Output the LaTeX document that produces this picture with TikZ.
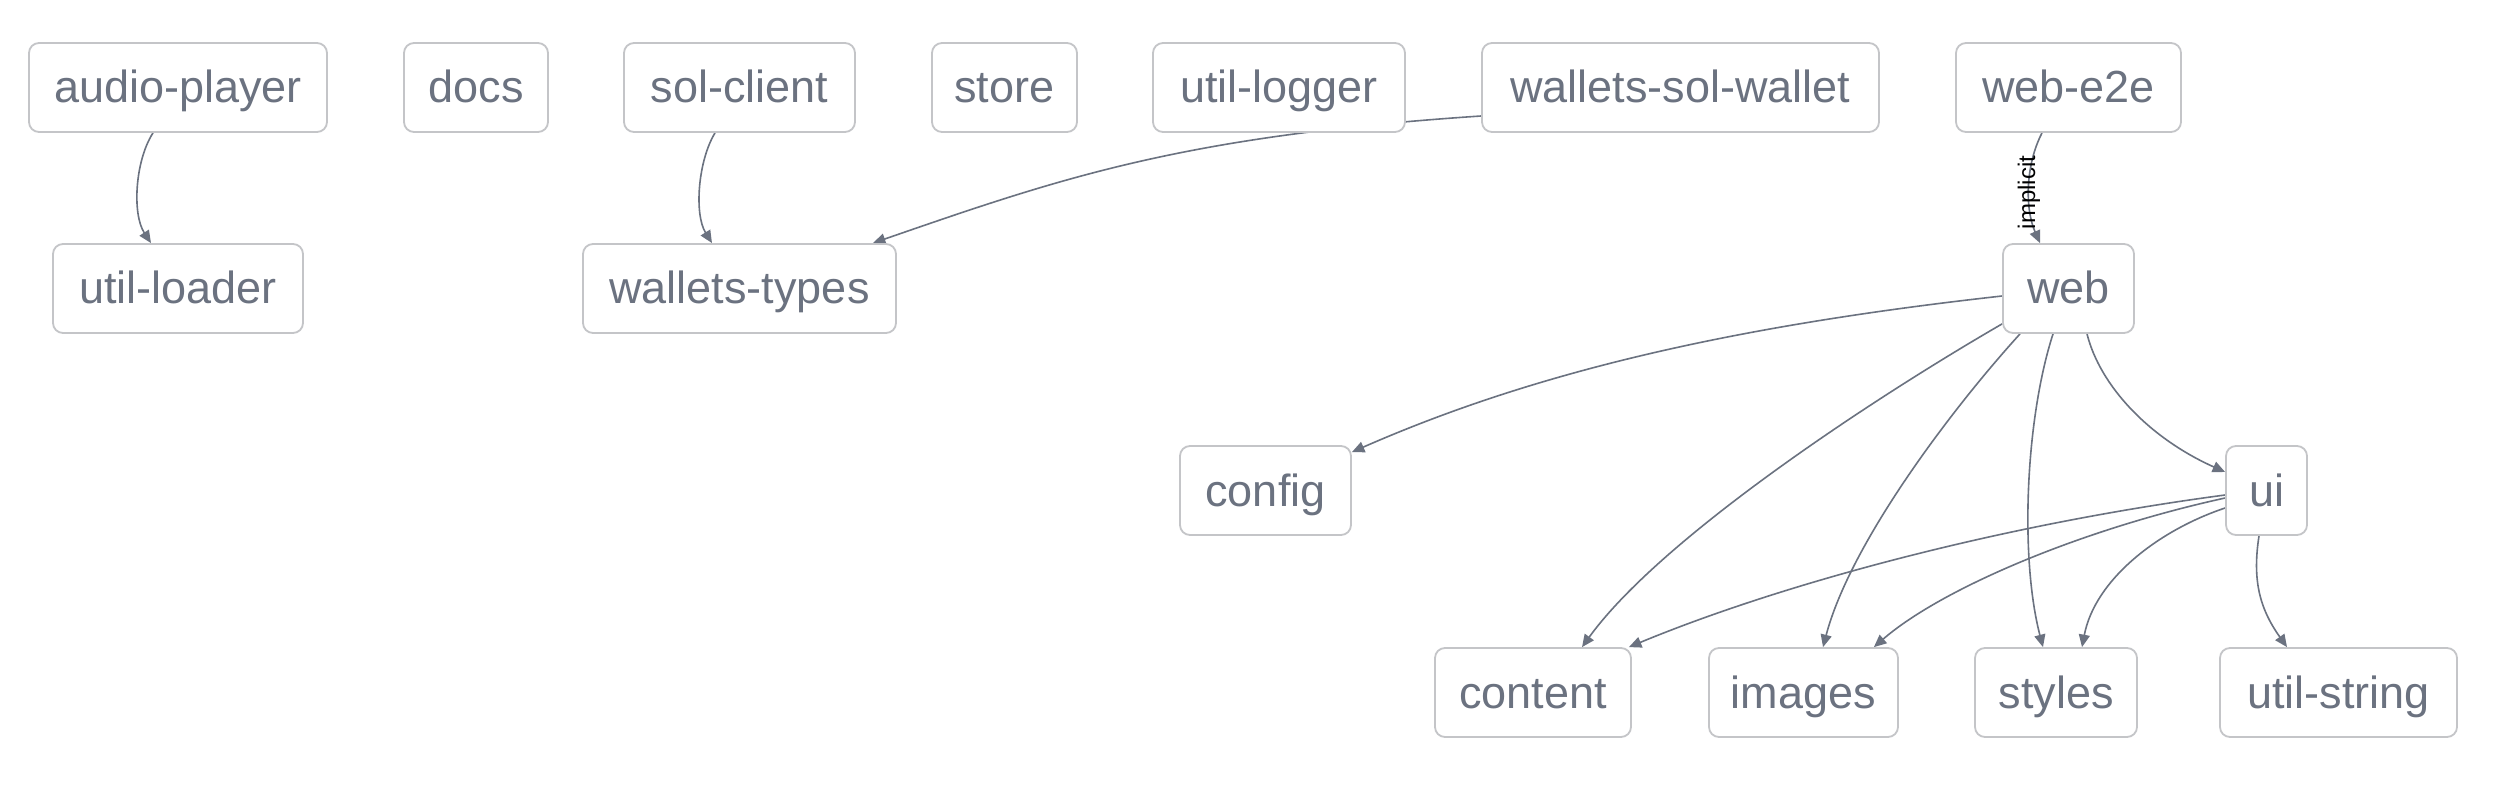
\documentclass[tikz,border=0pt]{standalone}
\usepackage{fontspec}
\setmainfont{Liberation Sans}
\usetikzlibrary{arrows.meta,backgrounds}
\definecolor{txtc}{HTML}{6B7280}
\definecolor{bordc}{HTML}{C4C5C8}
\definecolor{edgec}{HTML}{6B7280}
\begin{document}
\begin{tikzpicture}[x=1pt,y=-1pt,
  pkg/.style={draw=bordc, line width=1.8pt, fill=white, rounded corners=10pt,
    minimum height=89pt, inner sep=0pt, text=txtc,
    font=\fontsize{45}{54}\selectfont, text height=35pt, text depth=4pt},
  dep/.style={draw=edgec, line width=1.6pt, -{Triangle[length=12.5pt,width=11pt]}},
  lbl/.style={font=\fontsize{24}{28}\selectfont, text=black, rotate=90, inner sep=0pt}]
\useasboundingbox (0,0) rectangle (2504,802);
% row 1
\node[pkg, minimum width=298pt] (ap)    at (178,87.5)    {audio-player};
\node[pkg, minimum width=144pt] (docs)  at (476,87.5)    {docs};
\node[pkg, minimum width=231pt] (sol)   at (739.5,87.5)  {sol-client};
\node[pkg, minimum width=145pt] (store) at (1004.5,87.5) {store};
\node[pkg, minimum width=252pt] (ulog)  at (1279,87.5)   {util-logger};
\node[pkg, minimum width=397pt] (wsw)   at (1680.5,87.5) {wallets-sol-wallet};
\node[pkg, minimum width=225pt] (e2e)   at (2068.5,87.5) {web-e2e};
% row 2
\node[pkg, minimum width=250pt] (uload) at (178,288.5)   {util-loader};
\node[pkg, minimum width=313pt] (wt)    at (739.5,288.5) {wallets-types};
\node[pkg, minimum width=131pt] (web)   at (2068.5,288.5) {web};
% row 3
\node[pkg, minimum width=171pt] (config) at (1265.5,490.5) {config};
\node[pkg, minimum width=81pt]  (ui)     at (2266.5,490.5) {ui};
% row 4
\node[pkg, minimum width=196pt] (content) at (1533,692.5)  {content};
\node[pkg, minimum width=189pt] (images)  at (1803.5,692.5) {images};
\node[pkg, minimum width=162pt] (styles)  at (2056,692.5)  {styles};
\node[pkg, minimum width=237pt] (ustr)    at (2338.5,692.5) {util-string};
\begin{scope}[on background layer]
\fill[white] (0,0) rectangle (2504,802);
\draw[dep] ([xshift=-25pt]ap.south) .. controls +(-18,28) and +(-19,-29) .. ([xshift=-27pt]uload.north);
\draw[dep] ([xshift=-24.5pt]sol.south) .. controls +(-17,28) and +(-18,-29) .. ([xshift=-27.5pt]wt.north);
\draw[dep] ([yshift=-28.5pt]wsw.west) .. controls +(-300,20) and +(188,-65) .. ([xshift=-24pt]wt.north east);
\draw[dep] ([xshift=-26.5pt]e2e.south) .. controls +(-17,33) and +(-15,-34) .. node[lbl, xshift=-5pt] {implicit} ([xshift=-28.5pt]web.north);
\draw[dep] ([yshift=-7.5pt]web.west) .. controls +(-260,29) and +(189,-83) .. ([yshift=-7pt]config.north east);
\draw[dep] ([yshift=10pt]web.south west) .. controls +(-133,77) and +(78,-108) .. ([xshift=49pt]content.north);
\draw[dep] ([xshift=-48.5pt]web.south) .. controls +(-70,77) and +(27,-103) .. ([xshift=19.5pt]images.north);
\draw[dep] ([xshift=-15.5pt]web.south) .. controls +(-28,87) and +(-23,-88) .. ([xshift=-13pt]styles.north);
\draw[dep] ([xshift=18.5pt]web.south) .. controls +(13,52) and +(-76,-34) .. ([yshift=18.5pt]ui.west);
\draw[dep] ([yshift=-4.5pt]ui.west) .. controls +(-226,30) and +(152,-63) .. ([xshift=-3pt]content.north east);
\draw[dep] ([yshift=-7.5pt]ui.west) .. controls +(-146,32) and +(67,-58) .. ([xshift=-25pt]images.north east);
\draw[dep] ([yshift=-17.5pt]ui.west) .. controls +(-66,22) and +(13,-68) .. ([xshift=26pt]styles.north);
\draw[dep] ([xshift=-7.5pt]ui.south) .. controls +(-7,45) and +(-27,-38) .. ([xshift=-51.5pt]ustr.north);
\end{scope}
\end{tikzpicture}
\end{document}
